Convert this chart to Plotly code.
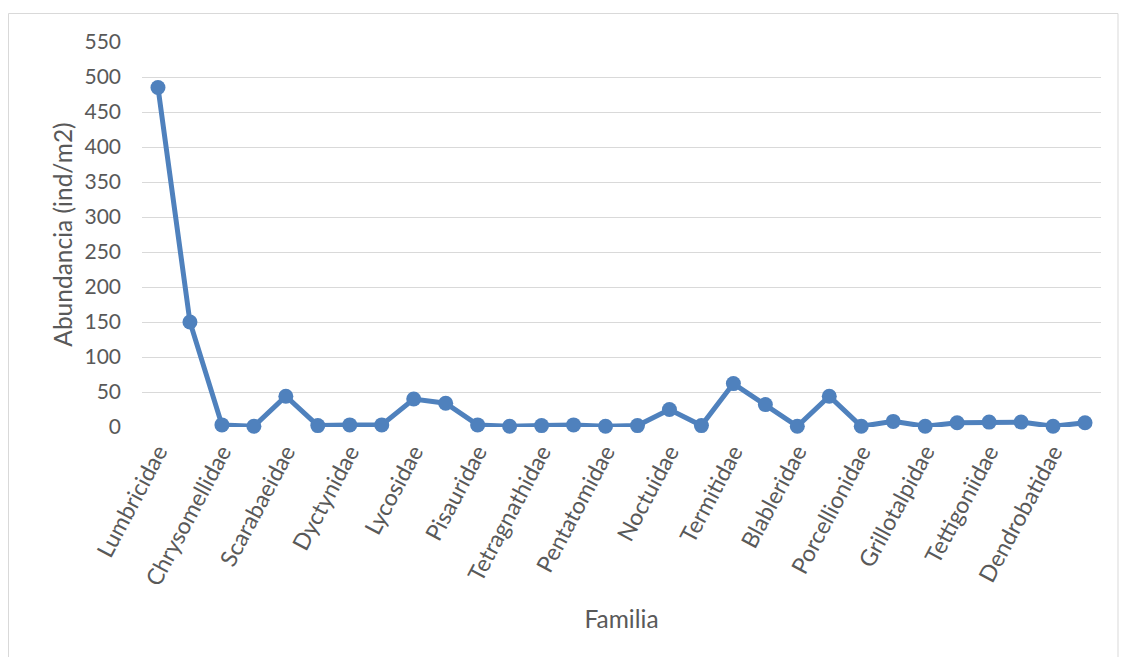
import plotly.graph_objects as go

labeled_families = ["Lumbricidae", "Chrysomellidae", "Scarabaeidae", "Dyctynidae", "Lycosidae",
                    "Pisauridae", "Tetragnathidae", "Pentatomidae", "Noctuidae", "Termitidae",
                    "Blableridae", "Porcellionidae", "Grillotalpidae", "Tettigoniidae", "Dendrobatidae"]
positions = list(range(30))
abundance = [485, 150, 3, 1, 44, 2, 3, 3, 40, 34,
             3, 1, 2, 3, 1, 2, 25, 2, 62, 32,
             1, 44, 1, 8, 1, 6, 7, 7, 1, 6]
tick_positions = positions[::2]

W, H = 1126, 657
L, R, T, B = 142, 1101, 42, 427

fig = go.Figure()
fig.add_trace(go.Scatter(
    x=positions, y=abundance, mode="lines+markers",
    line=dict(color="#4F81BD", width=5),
    marker=dict(color="#4F81BD", size=15),
    showlegend=False, cliponaxis=False))

fam = "Lato, 'Open Sans', sans-serif"
ytick_font = dict(family=fam, size=21, color="#595959")
xtick_font = dict(family=fam, size=23, color="#595959")
title_font = dict(family=fam, size=24.5, color="#595959")

def px(x):
    return (x - L) / (R - L)

def py(y):
    return (B - y) / (B - T)

fig.add_shape(type="rect", xref="paper", yref="paper",
              x0=px(8.5), x1=px(1118), y0=py(700), y1=py(13.5),
              line=dict(color="#D9D9D9", width=1), fillcolor="rgba(0,0,0,0)", layer="below")

fig.update_layout(
    width=W, height=H, margin=dict(l=L, r=W - R, t=T, b=H - B),
    paper_bgcolor="white", plot_bgcolor="white", font=ytick_font,
    xaxis=dict(range=[-0.5, 29.5], tickvals=tick_positions, ticktext=labeled_families,
               tickangle=-62, showgrid=False, zeroline=False, showline=False, ticks="",
               tickfont=xtick_font, ticklabelstandoff=6,
               title=dict(text="Familia", font=title_font, standoff=21)),
    yaxis=dict(range=[0, 550], dtick=50, showgrid=True, gridcolor="#D9D9D9", gridwidth=1.3,
               zeroline=False, showline=False, ticks="", tickfont=ytick_font,
               ticklabelstandoff=20,
               title=dict(text="Abundancia (ind/m2)", font=title_font, standoff=4)),
)
fig.write_html("out.html")
